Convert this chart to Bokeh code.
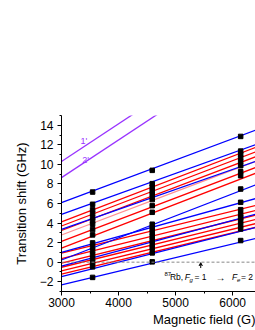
from bokeh.plotting import figure
from bokeh.models import Label, Span, Arrow, VeeHead, SingleIntervalTicker, ColumnDataSource, Title
from bokeh.embed import file_html
from bokeh.resources import INLINE

# ---- data ----
B_START, B_END = 3000, 6400

# blue lines: shift (GHz) at 3000 G and at 6400 G
blue_start = [6.08, 4.88, 3.36, 0.22, 1.00, -0.40, -1.47, -2.33]
blue_end = [13.50, 12.02, 10.30, 7.90, 6.50, 4.90, 3.55, 2.42]
# red lines
red_start = [4.12, 3.70, 3.24, 2.12, 1.43, 0.92, 0.37, -0.10, -0.52, -0.89, -1.23]
red_end = [11.73, 11.27, 10.78, 9.68, 9.09, 5.80, 5.29, 4.81, 4.36, 3.94, 3.56]
# light red line
pink_start = [2.78]
pink_end = [10.31]
# purple lines 1', 2'
purple_names = ["1'", "2'"]
purple_start = [10.30, 8.65]
purple_end = [23.39, 21.74]

# measured points (black squares)
field_points = [3545, 4590, 6140]
shift_3545 = [7.17, 5.92, 5.37, 4.97, 4.56, 4.22, 3.88, 3.33, 2.79, 1.97, 1.56, 1.15, 0.75, 0.34, -0.07, -0.48, -1.56]
shift_4590 = [9.39, 8.03, 7.69, 7.28, 6.87, 6.40, 5.78, 5.10, 3.88, 3.47, 3.06, 2.65, 2.24, 1.84, 1.43, 0.95, 0.03]
shift_6140 = [12.86, 11.36, 11.02, 10.68, 10.27, 9.86, 9.25, 8.84, 7.48, 6.12, 5.37, 4.90, 4.56, 4.22, 3.81, 3.40, 2.21]

x_ticks_step = 1000
y_ticks_step = 2

FONT = "Liberation Sans"
BLUE = "#0000ff"
RED = "#ff0000"
PINK = "#ff9090"
PURPLE = "#9933ff"

p = figure(width=255, height=330, x_range=(B_START, B_END), y_range=(-3, 15),
           output_backend="svg", toolbar_location=None,
           min_border_left=61, min_border_right=0, min_border_top=115, min_border_bottom=39)
p.outline_line_color = None
p.xgrid.visible = False
p.ygrid.visible = False
p.background_fill_color = "white"

def seg(starts, ends, color, width=1.3):
    src = ColumnDataSource(dict(x0=[B_START] * len(starts), x1=[B_END] * len(ends), y0=starts, y1=ends))
    p.segment(x0="x0", y0="y0", x1="x1", y1="y1", source=src, line_color=color, line_width=width)

p.add_layout(Span(location=0, dimension="width", line_color="#888888", line_dash="3 2", line_width=1))

seg(red_start, red_end, RED)
seg(pink_start, pink_end, PINK)
seg(blue_start, blue_end, BLUE)
seg(purple_start, purple_end, PURPLE)

xs, ys = [], []
for b, vals in zip(field_points, [shift_3545, shift_4590, shift_6140]):
    xs += [b] * len(vals)
    ys += vals
p.scatter(xs, ys, marker="square", size=4.5, fill_color="black", line_color="black")

# axes
p.xaxis.ticker = SingleIntervalTicker(interval=x_ticks_step, num_minor_ticks=2)
p.yaxis.ticker = SingleIntervalTicker(interval=y_ticks_step, num_minor_ticks=2)
for ax in (p.xaxis[0], p.yaxis[0]):
    ax.major_tick_in = 0
    ax.major_tick_out = 4
    ax.minor_tick_in = 0
    ax.minor_tick_out = 2
    ax.major_label_text_font = FONT
    ax.major_label_text_font_size = "12px"
    ax.major_label_text_color = "black"
    ax.axis_line_color = "black"
    ax.major_tick_line_color = "black"
    ax.minor_tick_line_color = "black"
    ax.axis_label_text_font = FONT
    ax.axis_label_text_font_style = "normal"
    ax.axis_label_text_font_size = "13px"
    ax.axis_label_text_color = "black"
p.xaxis.major_label_standoff = 2
p.yaxis.major_label_standoff = 4
p.yaxis.axis_label = "Transition shift (GHz)"
p.yaxis.axis_label_standoff = 8

p.add_layout(Title(text="Magnetic field (G)", align="right", offset=0, standoff=0,
                   text_font=FONT, text_font_size="13px", text_font_style="normal",
                   text_color="black"), "below")

# purple labels
for name, bx, vy in zip(purple_names, [3333, 3363], [12.4, 10.4]):
    p.add_layout(Label(x=bx, y=vy, text=name, text_font=FONT, text_font_size="9px",
                       text_baseline="alphabetic", text_color=PURPLE))

# annotation text pieces
pieces = [
    ("87", 4805, -1.16, "6px", "normal"),
    ("Rb,", 4900, -1.565, "8.5px", "normal"),
    ("F", 5160, -1.565, "8.5px", "italic"),
    ("g", 5245, -1.82, "6px", "italic"),
    ("= 1", 5331, -1.565, "8.5px", "normal"),
    ("\u2192", 5700, -1.565, "10px", "normal"),
    ("F", 5988, -1.565, "8.5px", "italic"),
    ("e", 6076, -1.82, "6px", "italic"),
    ("= 2", 6146, -1.565, "8.5px", "normal"),
]
for t, bx, vy, fs, st in pieces:
    p.add_layout(Label(x=bx, y=vy, text=t, text_font=FONT, text_font_size=fs,
                       text_font_style=st, text_baseline="alphabetic", text_color="black"))

p.add_layout(Arrow(end=VeeHead(size=3, line_color="black", line_width=1),
                   x_start=5440, y_start=-0.6, x_end=5440, y_end=-0.05,
                   line_color="black", line_width=1))

open("out.html", "w").write(file_html(p, INLINE))
